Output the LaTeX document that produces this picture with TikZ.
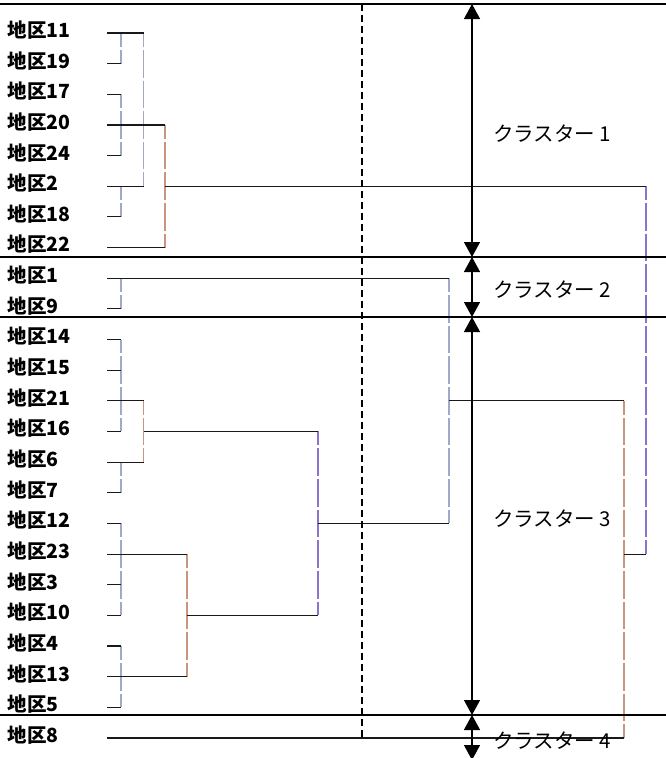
\documentclass[tikz,border=0pt]{standalone}
\usepackage{fontspec}
\setmainfont{Noto Sans CJK JP}
\usepackage{xcolor}
\usepackage{tikz}
\usetikzlibrary{arrows.meta, positioning, calc}

\definecolor{linkA}{RGB}{160,170,200}
\definecolor{linkT}{RGB}{200,150,125}
\definecolor{linkV}{RGB}{140,115,205}

\begin{document}
\begin{tikzpicture}[
    x=1pt, y=-1pt,
    node distance=0pt,
    region/.style  = {inner sep=0pt, outer sep=0pt, minimum height=30.65pt,
                      text width=75pt, align=left,
                      font=\bfseries\fontsize{19.5}{19.5}\selectfont},
    clabel/.style  = {inner sep=0pt, anchor=west,
                      font=\fontsize{20.5}{20.5}\selectfont},
    leaf/.style    = {draw=black!90, line width=1.1pt},
    link/.style    = {line width=1.1pt, dash pattern=on 27.65pt off 3pt,
                      dash phase=13.8pt},
    divider/.style = {draw=black, line width=1.6pt},
    cutline/.style = {draw=black, line width=1.3pt, dash pattern=on 7pt off 4pt},
    sizearrow/.style = {{Triangle[length=15pt, width=16pt]}-{Triangle[length=15pt, width=16pt]},
                        line width=1.4pt}
]
\useasboundingbox (0,0) rectangle (666,758);

% ========= region labels =========
\node[region, anchor=west] (t11) at (8,30) {地区11};
\node[region, below=of t11] (t19) {地区19};
\node[region, below=of t19] (t17) {地区17};
\node[region, below=of t17] (t20) {地区20};
\node[region, below=of t20] (t24) {地区24};
\node[region, below=of t24] (t2)  {地区2};
\node[region, below=of t2]  (t18) {地区18};
\node[region, below=of t18] (t22) {地区22};
\node[region, below=of t22] (t1)  {地区1};
\node[region, below=of t1]  (t9)  {地区9};
\node[region, below=of t9]  (t14) {地区14};
\node[region, below=of t14] (t15) {地区15};
\node[region, below=of t15] (t21) {地区21};
\node[region, below=of t21] (t16) {地区16};
\node[region, below=of t16] (t6)  {地区6};
\node[region, below=of t6]  (t7)  {地区7};
\node[region, below=of t7]  (t12) {地区12};
\node[region, below=of t12] (t23) {地区23};
\node[region, below=of t23] (t3)  {地区3};
\node[region, below=of t3]  (t10) {地区10};
\node[region, below=of t10] (t4)  {地区4};
\node[region, below=of t4]  (t13) {地区13};
\node[region, below=of t13] (t5)  {地区5};
\node[region, below=of t5]  (t8)  {地区8};

% ========= leaf ends =========
\coordinate (r11) at ([xshift=99pt, yshift=-3pt]t11.west);
\coordinate (r19) at ([xshift=99pt, yshift=-3pt]t19.west);
\coordinate (r17) at ([xshift=99pt, yshift=-3pt]t17.west);
\coordinate (r20) at ([xshift=99pt, yshift=-3pt]t20.west);
\coordinate (r24) at ([xshift=99pt, yshift=-3pt]t24.west);
\coordinate (r2)  at ([xshift=99pt, yshift=-3pt]t2.west);
\coordinate (r18) at ([xshift=99pt, yshift=-3pt]t18.west);
\coordinate (r22) at ([xshift=99pt, yshift=-3pt]t22.west);
\coordinate (r1)  at ([xshift=99pt, yshift=-3pt]t1.west);
\coordinate (r9)  at ([xshift=99pt, yshift=-3pt]t9.west);
\coordinate (r14) at ([xshift=99pt, yshift=-3pt]t14.west);
\coordinate (r15) at ([xshift=99pt, yshift=-3pt]t15.west);
\coordinate (r21) at ([xshift=99pt, yshift=-3pt]t21.west);
\coordinate (r16) at ([xshift=99pt, yshift=-3pt]t16.west);
\coordinate (r6)  at ([xshift=99pt, yshift=-3pt]t6.west);
\coordinate (r7)  at ([xshift=99pt, yshift=-3pt]t7.west);
\coordinate (r12) at ([xshift=99pt, yshift=-3pt]t12.west);
\coordinate (r23) at ([xshift=99pt, yshift=-3pt]t23.west);
\coordinate (r3)  at ([xshift=99pt, yshift=-3pt]t3.west);
\coordinate (r10) at ([xshift=99pt, yshift=-3pt]t10.west);
\coordinate (r4)  at ([xshift=99pt, yshift=-3pt]t4.west);
\coordinate (r13) at ([xshift=99pt, yshift=-3pt]t13.west);
\coordinate (r5)  at ([xshift=99pt, yshift=-3pt]t5.west);
\coordinate (r8)  at ([xshift=99pt, yshift=-3pt]t8.west);

% merge heights
\coordinate (xa) at (121,0);
\coordinate (xb) at (143.5,0);
\coordinate (xc) at (165,0);
\coordinate (xd) at (187,0);
\coordinate (xe) at (318,0);
\coordinate (xf) at (449,0);
\coordinate (xg) at (624,0);
\coordinate (xh) at (646,0);

% divider levels on the arrow axis
\coordinate (s0) at (472,4);
\coordinate (s1) at (472,257);
\coordinate (s2) at (472,317);
\coordinate (s3) at (472,715);
\coordinate (s4) at (472,760);
\coordinate (lft) at (0,0);
\coordinate (rgt) at (666,0);
\coordinate (cx)  at (362,0);

% ========= vertical links =========
\draw[link, draw=linkA] (r11 -| xa) -- (r19 -| xa);
\draw[link, draw=linkA] (r17 -| xa) -- (r24 -| xa);
\draw[link, draw=linkA] (r2 -| xa)  -- (r18 -| xa);
\draw[link, draw=linkA] (r11 -| xb) -- (r2 -| xb);
\draw[link, draw=linkT] (r20 -| xc) -- (r22 -| xc);
\draw[link, draw=linkV] (r2 -| xh)  -- (r23 -| xh);
\draw[link, draw=linkA] (r1 -| xa)  -- (r9 -| xa);
\draw[link, draw=linkA] (r1 -| xf)  -- (r12 -| xf);
\draw[link, draw=linkA] (r14 -| xa) -- (r16 -| xa);
\draw[link, draw=linkA] (r6 -| xa)  -- (r7 -| xa);
\draw[link, draw=linkT] (r21 -| xb) -- (r6 -| xb);
\draw[link, draw=linkA] (r12 -| xa) -- (r10 -| xa);
\draw[link, draw=linkA] (r4 -| xa)  -- (r5 -| xa);
\draw[link, draw=linkT] (r23 -| xd) -- (r13 -| xd);
\draw[link, draw=linkV] (r16 -| xe) -- (r10 -| xe);
\draw[link, draw=linkT] (r21 -| xg) -- (r8 -| xg);

% ========= horizontal branches =========
\draw[leaf] (r11) -- (r11 -| xb);
\draw[leaf] (r19) -- (r19 -| xa);
\draw[leaf] (r17) -- (r17 -| xa);
\draw[leaf] (r20) -- (r20 -| xc);
\draw[leaf] (r24) -- (r24 -| xa);
\draw[leaf] (r2)  -- (r2 -| xb);
\draw[leaf] (r18) -- (r18 -| xa);
\draw[leaf] (r22) -- (r22 -| xc);
\draw[leaf] (r2 -| xc) -- (r2 -| xh);
\draw[leaf] (r1)  -- (r1 -| xf);
\draw[leaf] (r9)  -- (r9 -| xa);
\draw[leaf] (r14) -- (r14 -| xa);
\draw[leaf] (r15) -- (r15 -| xa);
\draw[leaf] (r21) -- (r21 -| xb);
\draw[leaf] (r16) -- (r16 -| xa);
\draw[leaf] (r6)  -- (r6 -| xb);
\draw[leaf] (r7)  -- (r7 -| xa);
\draw[leaf] (r16 -| xb) -- (r16 -| xe);
\draw[leaf] (r12) -- (r12 -| xa);
\draw[leaf] (r23) -- (r23 -| xd);
\draw[leaf] (r3)  -- (r3 -| xa);
\draw[leaf] (r10) -- (r10 -| xa);
\draw[leaf] (r4)  -- (r4 -| xa);
\draw[leaf] (r13) -- (r13 -| xd);
\draw[leaf] (r5)  -- (r5 -| xa);
\draw[leaf] (r10 -| xd) -- (r10 -| xe);
\draw[leaf] (r12 -| xe) -- (r12 -| xf);
\draw[leaf] (r21 -| xf) -- (r21 -| xg);
\draw[leaf] (r23 -| xg) -- (r23 -| xh);
\draw[leaf] (r8)  -- (r8 -| xg);

% ========= cut line and dividers =========
\draw[cutline] (s0 -| cx) -- (r8 -| cx);
\draw[divider] (s0 -| lft) -- (s0 -| rgt);
\draw[divider] (s1 -| lft) -- (s1 -| rgt);
\draw[divider] (s2 -| lft) -- (s2 -| rgt);
\draw[divider] (s3 -| lft) -- (s3 -| rgt);

% ========= cluster spans =========
\draw[sizearrow] (s0) -- (s1);
\draw[sizearrow] (s1) -- (s2);
\draw[sizearrow] (s2) -- (s3);
\draw[sizearrow] (s3) -- (s4);

\node[clabel] (k1) at ($(s0)!0.5!(s1) + (21,3)$) {クラスター 1};
\node[clabel] (k2) at ($(s1)!0.5!(s2) + (21,3)$) {クラスター 2};
\node[clabel] (k3) at ($(s2)!0.5!(s3) + (21,3)$) {クラスター 3};
\node[clabel] (k4) at ($(s3)!0.5!(s4) + (21,3)$) {クラスター 4};

\end{tikzpicture}
\end{document}
